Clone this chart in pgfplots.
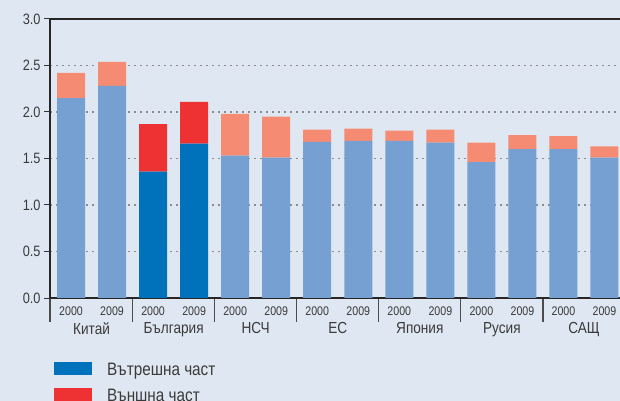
\documentclass[border=0pt]{standalone}
\usepackage{fontspec}
\setmainfont{Liberation Sans}[FakeStretch=0.85]
\usepackage{pgfplots}
\pgfplotsset{compat=1.18}
\definecolor{bg}{HTML}{DFE8F2}
\definecolor{lblue}{HTML}{76A0D2}
\definecolor{salmon}{HTML}{F58B72}
\definecolor{dblue}{HTML}{0072BC}
\definecolor{bred}{HTML}{EE3132}
\definecolor{txt}{HTML}{3A3A3A}
\begin{document}
\begin{tikzpicture}
\fill[bg] (0,0) rectangle (620bp,401bp);
\begin{axis}[
  at={(50bp,103bp)}, anchor=south west,
  scale only axis, width=570bp, height=279bp,
  xmin=-0.512, xmax=13.378, ymin=0, ymax=3,
  ybar stacked, bar width=28bp,
  every axis plot post/.append style={legend image code/.code={\fill[##1] (0bp,-5bp) rectangle (38bp,8bp);}},
  axis x line*=box, axis y line*=left,
  axis line style={line width=1.2bp, color=black!85},
  xtick pos=lower, ytick pos=left,
  tick align=outside,
  major tick length=6bp, minor tick length=24bp,
  xtick={0,...,13},
  xticklabels={2000,2009,2000,2009,2000,2009,2000,2009,2000,2009,2000,2009,2000,2009},
  major x tick style={draw=none},
  minor xtick={-0.512,1.5,3.5,5.5,7.5,9.5,11.5},
  minor x tick style={line width=1.2bp, color=black!70},
  xticklabel style={font=\fontsize{12.5bp}{14bp}\selectfont, text=txt, yshift=1bp},
  extra x ticks={0.5,2.5,4.5,6.5,8.5,10.5,12.5},
  extra x tick labels={Китай,България,НСЧ,ЕС,Япония,Русия,САЩ},
  extra x tick style={major tick length=0pt, xticklabel style={font=\fontsize{16bp}{18bp}\selectfont, text=txt, yshift=-22bp}},
  ytick={0,0.5,1,1.5,2,2.5,3},
  y tick label style={/pgf/number format/.cd, fixed, fixed zerofill, precision=1, /tikz/.cd, font=\fontsize{15bp}{17bp}\selectfont, text=txt},
  /pgf/number format/assume math mode=true,
  y tick style={line width=1bp, color=black!80},
  ymajorgrids,
  major grid style={dash pattern=on 1.5bp off 4.5bp, line width=1.2bp, color=black!45},
  legend style={at={(0,0)}, anchor=north west, xshift=4bp, yshift=-64bp, draw=none, fill=none, inner sep=0pt, outer sep=0pt, row sep=10bp, font=\fontsize{18bp}{20bp}\selectfont, text=txt, nodes={inner sep=1bp}, /tikz/every odd column/.append style={column sep=14bp}},
  legend cell align=left,
]
\addlegendimage{fill=dblue, draw=none}
\addlegendentry{Вътрешна част}
\addlegendimage{fill=bred, draw=none}
\addlegendentry{Външна част}
% inner part, light (all except Bulgaria)
\addplot+[fill=lblue, draw=none, forget plot] coordinates {
(0,2.15) (1,2.28) (2,0) (3,0) (4,1.53) (5,1.51) (6,1.68) (7,1.69) (8,1.69) (9,1.67) (10,1.46) (11,1.60) (12,1.60) (13,1.51)};
% inner part, Bulgaria
\addplot+[fill=dblue, draw=none, forget plot] coordinates {
(0,0) (1,0) (2,1.36) (3,1.66) (4,0) (5,0) (6,0) (7,0) (8,0) (9,0) (10,0) (11,0) (12,0) (13,0)};
% outer part, light
\addplot+[fill=salmon, draw=none, forget plot] coordinates {
(0,0.27) (1,0.26) (2,0) (3,0) (4,0.45) (5,0.44) (6,0.13) (7,0.13) (8,0.11) (9,0.14) (10,0.21) (11,0.15) (12,0.14) (13,0.12)};
% outer part, Bulgaria
\addplot+[fill=bred, draw=none, forget plot] coordinates {
(0,0) (1,0) (2,0.51) (3,0.45) (4,0) (5,0) (6,0) (7,0) (8,0) (9,0) (10,0) (11,0) (12,0) (13,0)};
\end{axis}
\pgfresetboundingbox
\path (0,0) rectangle (620bp,401bp);
\end{tikzpicture}
\end{document}
